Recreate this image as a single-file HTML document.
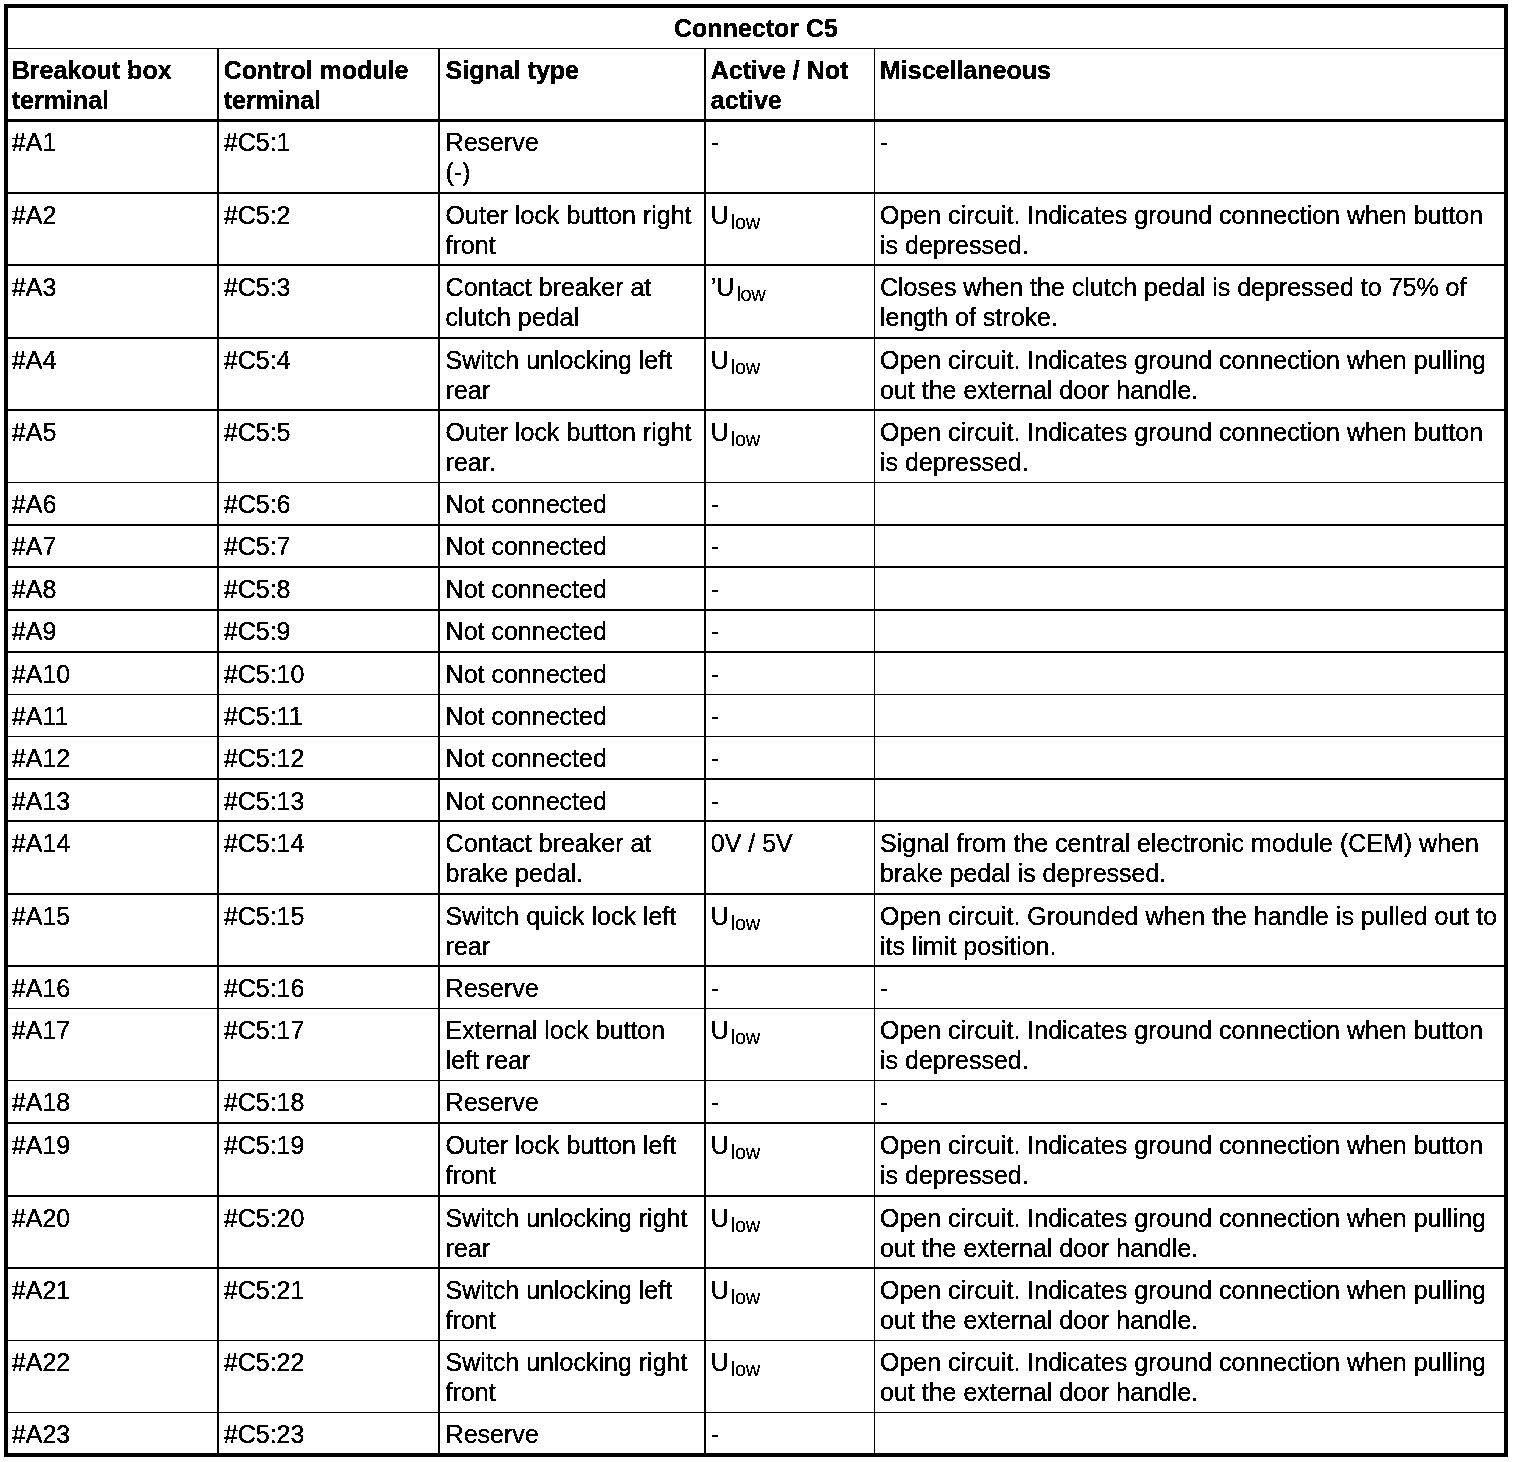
<!DOCTYPE html>
<html><head><meta charset="utf-8"><title>Connector C5</title>
<style>
html,body{margin:0;padding:0;background:#fff;}
body{width:1520px;height:1462px;position:relative;overflow:hidden;font-family:"Liberation Sans",sans-serif;font-size:25px;line-height:30px;color:#000;}
.l{position:absolute;background:#000;}
.t{position:absolute;white-space:nowrap;height:30px;-webkit-text-stroke:0.2px #000;}
.b{font-weight:bold;}
.s{font-size:20px;letter-spacing:-0.4px;position:relative;top:5px;margin-left:2px;line-height:0;-webkit-text-stroke:0;}
#pg{position:absolute;left:0;top:0;width:1520px;height:1462px;background:#fff;filter:url(#bw);}
</style></head><body>
<svg width="0" height="0" style="position:absolute"><defs><filter id="bw" x="0" y="0" width="100%" height="100%" color-interpolation-filters="sRGB">
<feColorMatrix type="matrix" values="0.333 0.334 0.333 0 0  0.333 0.334 0.333 0 0  0.333 0.334 0.333 0 0  0 0 0 1 0"/>
<feComponentTransfer><feFuncR type="discrete" tableValues="0 0 0 0 0 0 0 0 0 0 0 0 1 1 1 1 1 1 1 1"/><feFuncG type="discrete" tableValues="0 0 0 0 0 0 0 0 0 0 0 0 1 1 1 1 1 1 1 1"/><feFuncB type="discrete" tableValues="0 0 0 0 0 0 0 0 0 0 0 0 1 1 1 1 1 1 1 1"/></feComponentTransfer>
</filter></defs></svg>
<div id="pg">

<div class="l" style="left:4px;top:4px;width:1504px;height:4px"></div>
<div class="l" style="left:4px;top:1453px;width:1504px;height:4px"></div>
<div class="l" style="left:4px;top:4px;width:4px;height:1453px"></div>
<div class="l" style="left:1504px;top:4px;width:4px;height:1453px"></div>
<div class="l" style="left:8px;top:48px;width:1496px;height:1px"></div>
<div class="l" style="left:8px;top:119px;width:1496px;height:3px"></div>
<div class="l" style="left:8px;top:192px;width:1496px;height:2px"></div>
<div class="l" style="left:8px;top:264px;width:1496px;height:2px"></div>
<div class="l" style="left:8px;top:337px;width:1496px;height:2px"></div>
<div class="l" style="left:8px;top:409px;width:1496px;height:2px"></div>
<div class="l" style="left:8px;top:482px;width:1496px;height:1px"></div>
<div class="l" style="left:8px;top:524px;width:1496px;height:2px"></div>
<div class="l" style="left:8px;top:566px;width:1496px;height:2px"></div>
<div class="l" style="left:8px;top:609px;width:1496px;height:2px"></div>
<div class="l" style="left:8px;top:651px;width:1496px;height:2px"></div>
<div class="l" style="left:8px;top:694px;width:1496px;height:1px"></div>
<div class="l" style="left:8px;top:736px;width:1496px;height:1px"></div>
<div class="l" style="left:8px;top:778px;width:1496px;height:2px"></div>
<div class="l" style="left:8px;top:820px;width:1496px;height:2px"></div>
<div class="l" style="left:8px;top:893px;width:1496px;height:2px"></div>
<div class="l" style="left:8px;top:965px;width:1496px;height:2px"></div>
<div class="l" style="left:8px;top:1008px;width:1496px;height:1px"></div>
<div class="l" style="left:8px;top:1080px;width:1496px;height:1px"></div>
<div class="l" style="left:8px;top:1122px;width:1496px;height:2px"></div>
<div class="l" style="left:8px;top:1195px;width:1496px;height:2px"></div>
<div class="l" style="left:8px;top:1267px;width:1496px;height:2px"></div>
<div class="l" style="left:8px;top:1340px;width:1496px;height:1px"></div>
<div class="l" style="left:8px;top:1412px;width:1496px;height:1px"></div>
<div class="l" style="left:217px;top:49px;width:2px;height:1404px"></div>
<div class="l" style="left:438px;top:49px;width:2px;height:1404px"></div>
<div class="l" style="left:704px;top:49px;width:2px;height:1404px"></div>
<div class="l" style="left:874px;top:49px;width:1px;height:1404px"></div>
<div class="t b" style="left:8px;width:1496px;text-align:center;top:12.5px">Connector C5</div>
<div class="t b" style="left:11.8px;top:55px">Breakout box</div>
<div class="t b" style="left:11.8px;top:85px">terminal</div>
<div class="t b" style="left:223.8px;top:55px">Control module</div>
<div class="t b" style="left:223.8px;top:85px">terminal</div>
<div class="t b" style="left:445.6px;top:55px">Signal type</div>
<div class="t b" style="left:710.8px;top:55px">Active / Not</div>
<div class="t b" style="left:710.8px;top:85px">active</div>
<div class="t b" style="left:880px;top:55px">Miscellaneous</div>
<div class="t" style="left:11.8px;top:127px">#A1</div>
<div class="t" style="left:223.8px;top:127px">#C5:1</div>
<div class="t" style="left:445.6px;top:127px">Reserve</div>
<div class="t" style="left:445.6px;top:157px">(-)</div>
<div class="t" style="left:710.8px;top:127px">-</div>
<div class="t" style="left:880px;top:127px">-</div>
<div class="t" style="left:11.8px;top:200px">#A2</div>
<div class="t" style="left:223.8px;top:200px">#C5:2</div>
<div class="t" style="left:445.6px;top:200px">Outer lock button right</div>
<div class="t" style="left:445.6px;top:230px">front</div>
<div class="t" style="left:710.8px;top:200px">U<span class="s">low</span></div>
<div class="t" style="left:880px;top:200px">Open circuit. Indicates ground connection when button</div>
<div class="t" style="left:880px;top:230px">is depressed.</div>
<div class="t" style="left:11.8px;top:272px">#A3</div>
<div class="t" style="left:223.8px;top:272px">#C5:3</div>
<div class="t" style="left:445.6px;top:272px">Contact breaker at</div>
<div class="t" style="left:445.6px;top:302px">clutch pedal</div>
<div class="t" style="left:710.8px;top:272px">&rsquo;U<span class="s">low</span></div>
<div class="t" style="left:880px;top:272px">Closes when the clutch pedal is depressed to 75% of</div>
<div class="t" style="left:880px;top:302px">length of stroke.</div>
<div class="t" style="left:11.8px;top:345px">#A4</div>
<div class="t" style="left:223.8px;top:345px">#C5:4</div>
<div class="t" style="left:445.6px;top:345px">Switch unlocking left</div>
<div class="t" style="left:445.6px;top:375px">rear</div>
<div class="t" style="left:710.8px;top:345px">U<span class="s">low</span></div>
<div class="t" style="left:880px;top:345px">Open circuit. Indicates ground connection when pulling</div>
<div class="t" style="left:880px;top:375px">out the external door handle.</div>
<div class="t" style="left:11.8px;top:417px">#A5</div>
<div class="t" style="left:223.8px;top:417px">#C5:5</div>
<div class="t" style="left:445.6px;top:417px">Outer lock button right</div>
<div class="t" style="left:445.6px;top:447px">rear.</div>
<div class="t" style="left:710.8px;top:417px">U<span class="s">low</span></div>
<div class="t" style="left:880px;top:417px">Open circuit. Indicates ground connection when button</div>
<div class="t" style="left:880px;top:447px">is depressed.</div>
<div class="t" style="left:11.8px;top:489px">#A6</div>
<div class="t" style="left:223.8px;top:489px">#C5:6</div>
<div class="t" style="left:445.6px;top:489px">Not connected</div>
<div class="t" style="left:710.8px;top:489px">-</div>
<div class="t" style="left:11.8px;top:531px">#A7</div>
<div class="t" style="left:223.8px;top:531px">#C5:7</div>
<div class="t" style="left:445.6px;top:531px">Not connected</div>
<div class="t" style="left:710.8px;top:531px">-</div>
<div class="t" style="left:11.8px;top:574px">#A8</div>
<div class="t" style="left:223.8px;top:574px">#C5:8</div>
<div class="t" style="left:445.6px;top:574px">Not connected</div>
<div class="t" style="left:710.8px;top:574px">-</div>
<div class="t" style="left:11.8px;top:616px">#A9</div>
<div class="t" style="left:223.8px;top:616px">#C5:9</div>
<div class="t" style="left:445.6px;top:616px">Not connected</div>
<div class="t" style="left:710.8px;top:616px">-</div>
<div class="t" style="left:11.8px;top:659px">#A10</div>
<div class="t" style="left:223.8px;top:659px">#C5:10</div>
<div class="t" style="left:445.6px;top:659px">Not connected</div>
<div class="t" style="left:710.8px;top:659px">-</div>
<div class="t" style="left:11.8px;top:701px">#A11</div>
<div class="t" style="left:223.8px;top:701px">#C5:11</div>
<div class="t" style="left:445.6px;top:701px">Not connected</div>
<div class="t" style="left:710.8px;top:701px">-</div>
<div class="t" style="left:11.8px;top:743px">#A12</div>
<div class="t" style="left:223.8px;top:743px">#C5:12</div>
<div class="t" style="left:445.6px;top:743px">Not connected</div>
<div class="t" style="left:710.8px;top:743px">-</div>
<div class="t" style="left:11.8px;top:786px">#A13</div>
<div class="t" style="left:223.8px;top:786px">#C5:13</div>
<div class="t" style="left:445.6px;top:786px">Not connected</div>
<div class="t" style="left:710.8px;top:786px">-</div>
<div class="t" style="left:11.8px;top:828px">#A14</div>
<div class="t" style="left:223.8px;top:828px">#C5:14</div>
<div class="t" style="left:445.6px;top:828px">Contact breaker at</div>
<div class="t" style="left:445.6px;top:858px">brake pedal.</div>
<div class="t" style="left:710.8px;top:828px">0V / 5V</div>
<div class="t" style="left:880px;top:828px">Signal from the central electronic module (CEM) when</div>
<div class="t" style="left:880px;top:858px">brake pedal is depressed.</div>
<div class="t" style="left:11.8px;top:901px">#A15</div>
<div class="t" style="left:223.8px;top:901px">#C5:15</div>
<div class="t" style="left:445.6px;top:901px">Switch quick lock left</div>
<div class="t" style="left:445.6px;top:931px">rear</div>
<div class="t" style="left:710.8px;top:901px">U<span class="s">low</span></div>
<div class="t" style="left:880px;top:901px">Open circuit. Grounded when the handle is pulled out to</div>
<div class="t" style="left:880px;top:931px">its limit position.</div>
<div class="t" style="left:11.8px;top:973px">#A16</div>
<div class="t" style="left:223.8px;top:973px">#C5:16</div>
<div class="t" style="left:445.6px;top:973px">Reserve</div>
<div class="t" style="left:710.8px;top:973px">-</div>
<div class="t" style="left:880px;top:973px">-</div>
<div class="t" style="left:11.8px;top:1015px">#A17</div>
<div class="t" style="left:223.8px;top:1015px">#C5:17</div>
<div class="t" style="left:445.6px;top:1015px">External lock button</div>
<div class="t" style="left:445.6px;top:1045px">left rear</div>
<div class="t" style="left:710.8px;top:1015px">U<span class="s">low</span></div>
<div class="t" style="left:880px;top:1015px">Open circuit. Indicates ground connection when button</div>
<div class="t" style="left:880px;top:1045px">is depressed.</div>
<div class="t" style="left:11.8px;top:1087px">#A18</div>
<div class="t" style="left:223.8px;top:1087px">#C5:18</div>
<div class="t" style="left:445.6px;top:1087px">Reserve</div>
<div class="t" style="left:710.8px;top:1087px">-</div>
<div class="t" style="left:880px;top:1087px">-</div>
<div class="t" style="left:11.8px;top:1130px">#A19</div>
<div class="t" style="left:223.8px;top:1130px">#C5:19</div>
<div class="t" style="left:445.6px;top:1130px">Outer lock button left</div>
<div class="t" style="left:445.6px;top:1160px">front</div>
<div class="t" style="left:710.8px;top:1130px">U<span class="s">low</span></div>
<div class="t" style="left:880px;top:1130px">Open circuit. Indicates ground connection when button</div>
<div class="t" style="left:880px;top:1160px">is depressed.</div>
<div class="t" style="left:11.8px;top:1203px">#A20</div>
<div class="t" style="left:223.8px;top:1203px">#C5:20</div>
<div class="t" style="left:445.6px;top:1203px">Switch unlocking right</div>
<div class="t" style="left:445.6px;top:1233px">rear</div>
<div class="t" style="left:710.8px;top:1203px">U<span class="s">low</span></div>
<div class="t" style="left:880px;top:1203px">Open circuit. Indicates ground connection when pulling</div>
<div class="t" style="left:880px;top:1233px">out the external door handle.</div>
<div class="t" style="left:11.8px;top:1275px">#A21</div>
<div class="t" style="left:223.8px;top:1275px">#C5:21</div>
<div class="t" style="left:445.6px;top:1275px">Switch unlocking left</div>
<div class="t" style="left:445.6px;top:1305px">front</div>
<div class="t" style="left:710.8px;top:1275px">U<span class="s">low</span></div>
<div class="t" style="left:880px;top:1275px">Open circuit. Indicates ground connection when pulling</div>
<div class="t" style="left:880px;top:1305px">out the external door handle.</div>
<div class="t" style="left:11.8px;top:1347px">#A22</div>
<div class="t" style="left:223.8px;top:1347px">#C5:22</div>
<div class="t" style="left:445.6px;top:1347px">Switch unlocking right</div>
<div class="t" style="left:445.6px;top:1377px">front</div>
<div class="t" style="left:710.8px;top:1347px">U<span class="s">low</span></div>
<div class="t" style="left:880px;top:1347px">Open circuit. Indicates ground connection when pulling</div>
<div class="t" style="left:880px;top:1377px">out the external door handle.</div>
<div class="t" style="left:11.8px;top:1419px">#A23</div>
<div class="t" style="left:223.8px;top:1419px">#C5:23</div>
<div class="t" style="left:445.6px;top:1419px">Reserve</div>
<div class="t" style="left:710.8px;top:1419px">-</div>
</div></body></html>
